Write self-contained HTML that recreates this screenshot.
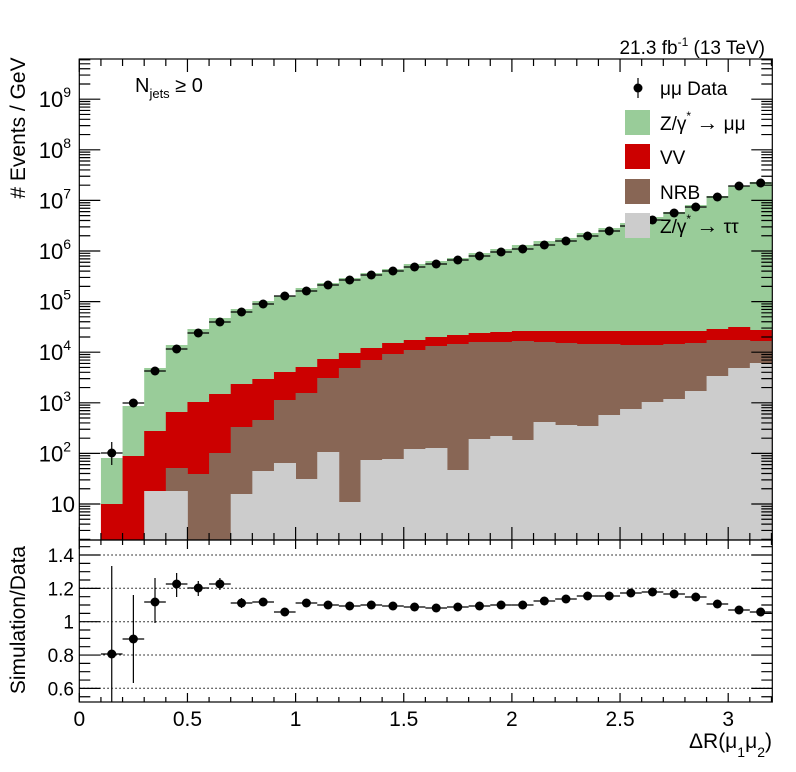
<!DOCTYPE html>
<html><head><meta charset="utf-8"><style>
html,body{margin:0;padding:0;background:#fff;}
svg{display:block;font-family:"Liberation Sans",sans-serif;}
</style></head><body>
<svg id="s" width="796" height="772" xmlns="http://www.w3.org/2000/svg"></svg>
<script>
const L=79.3,R=772.3,T=59,B1=540,B2=702,bw=21.63;
const X=v=>L+v*216.3;
const green=[null,458,406,368,345,329,318,309,301,296,288,283,278,273,269,264,261,258,253,249,245,241,238,233,228,223,217,212,205,196,186,182];
const red=[null,504,456,431,412,402,394,384,379,372,367,359,353,348,343,340,337,335,333,332,331,331,331,331,331,331,331,331,331,329,327,330];
const brown=[null,540,540,540,468,474,453,427,420,400,393,378,368,360,354,350,346,344,342,342,341,342,343,344,344,345,345,344,343,340,340,341];
const gray=[null,540,540,491,491,540,540,494,471,463,479,452,502,460,459,449,448,470,439,436,440,422,425,426,415,409,402,399,391,376,368,363];
const data=[null,453,403,371,349,333,322,312,304,296,291,285,280,275,271,267,264,260,256,252,249,245,241,236,231,226,220,213,207,197,186,183];
const rat=[null,654,639,602,584,588,584,603,602,612,603,605,606,605,606,607,608,607,606,605,605,601,599,596,596,593,592,594,597,604,610,612];
const rerr=[null,[566,702],[595,683],[578,623],[573,597],[581,596],[578,590],[598,608],[598,606]];
let s='';
function hist(arr,col){let d='';for(let i=1;i<=31;i++){const x0=L+i*bw,y=arr[i];if(y<B1)d+=`M${x0},${B1}H${x0+bw+0.4}V${y}H${x0}Z`;}s+=`<path d="${d}" fill="${col}"/>`;}
hist(green,'#99cc99');hist(red,'#cc0000');hist(brown,'#886655');hist(gray,'#cccccc');
for(let i=1;i<=31;i++){const cx=L+(i+0.5)*bw,y=data[i];s+=`<line x1="${cx-bw/2}" x2="${cx+bw/2}" y1="${y}" y2="${y}" stroke="#000" stroke-width="1.2"/>`;
 if(i==1)s+=`<line x1="${cx}" x2="${cx}" y1="442" y2="465" stroke="#000" stroke-width="1.2"/>`;
 s+=`<circle cx="${cx}" cy="${y}" r="4.5" fill="#000"/>`;}
[555,588.3,621.7,655,688.3].forEach(y=>s+=`<line x1="${L}" x2="${R}" y1="${y}" y2="${y}" stroke="#000" stroke-width="1" stroke-dasharray="1.5,2.5"/>`);
for(let i=1;i<=31;i++){const cx=L+(i+0.5)*bw,y=rat[i];s+=`<line x1="${cx-bw/2}" x2="${cx+bw/2}" y1="${y}" y2="${y}" stroke="#000" stroke-width="1.2"/>`;
 if(rerr[i])s+=`<line x1="${cx}" x2="${cx}" y1="${rerr[i][0]}" y2="${rerr[i][1]}" stroke="#000" stroke-width="1.2"/>`;
 s+=`<circle cx="${cx}" cy="${y}" r="4.5" fill="#000"/>`;}
s+=`<rect x="${L}" y="${T}" width="${R-L}" height="${B1-T}" fill="none" stroke="#000" stroke-width="1.2"/>`;
s+=`<rect x="${L}" y="${B1}" width="${R-L}" height="${B2-B1}" fill="none" stroke="#000" stroke-width="1.2"/>`;
let tk='';
for(let k=0;k<=32;k++){const x=X(k/10),maj=k%5==0;const l=maj?13:7;
 tk+=`M${x},${B1}v-${l}M${x},${T}v${l}M${x},${B2}v-${maj?9:5}M${x},${B1}v${maj?9:5}`;}
const Y=lv=>504-50.6*(lv-1);
for(let n=0;n<=9;n++){for(let m=1;m<=9;m++){const y=Y(n+Math.log10(m));if(y<T||y>B1)continue;const l=m==1?21:11;tk+=`M${L},${y}h${l}M${R},${y}h-${l}`;}}
for(let k=0;k<=20;k++){const r=0.5+k*0.05;const y=621.7-166.7*(r-1);if(y<B1||y>B2)continue;const maj=Math.abs((r*10)%2)<0.01||Math.abs((r*10)%2-2)<0.01;const l=maj?21:11;tk+=`M${L},${y}h${l}M${R},${y}h-${l}`;}
s+=`<path d="${tk}" stroke="#000" stroke-width="1.2" fill="none"/>`;
for(let n=2;n<=9;n++){const y=Y(n);s+=`<text x="71" y="${y+8}" font-size="22" text-anchor="end">10<tspan font-size="14" dy="-10">${n}</tspan></text>`;}
s+=`<text x="75" y="${Y(1)+8}" font-size="22" text-anchor="end">10</text>`;
[[1.4,555],[1.2,588.3],[1,621.7],[0.8,655],[0.6,688.3]].forEach(([v,y])=>s+=`<text x="74" y="${y+7}" font-size="19" text-anchor="end">${v}</text>`);
[[0,'0'],[0.5,'0.5'],[1,'1'],[1.5,'1.5'],[2,'2'],[2.5,'2.5'],[3,'3']].forEach(([v,t])=>s+=`<text x="${X(v)}" y="726" font-size="21" text-anchor="middle">${t}</text>`);
s+=`<text x="772" y="748" font-size="21" text-anchor="end">ΔR(μ<tspan font-size="14" dy="9">1</tspan><tspan dy="-9">μ</tspan><tspan font-size="14" dy="9">2</tspan><tspan dy="-9">)</tspan></text>`;
s+=`<text transform="translate(25,128) rotate(-90)" font-size="21" text-anchor="middle"># Events / GeV</text>`;
s+=`<text transform="translate(25,620) rotate(-90)" font-size="21" text-anchor="middle">Simulation/Data</text>`;
s+=`<text x="765" y="54" font-size="19" text-anchor="end">21.3 fb<tspan font-size="12" dy="-8">-1</tspan><tspan dy="8"> (13 TeV)</tspan></text>`;
s+=`<text x="135" y="92" font-size="20">N<tspan font-size="13" dy="6">jets</tspan><tspan dy="-6"> ≥ 0</tspan></text>`;
s+=`<line x1="638" x2="638" y1="78" y2="98" stroke="#000" stroke-width="1.2"/><circle cx="638" cy="88" r="4.5" fill="#000"/>`;
s+=`<text x="660" y="95" font-size="19">μμ Data</text>`;
const lg=[['#99cc99',110,'Z/γ','μμ'],['#cc0000',144,'VV'],['#886655',179,'NRB'],['#cccccc',213,'Z/γ','ττ']];
lg.forEach(([c,y,t,t2])=>{s+=`<rect x="625" y="${y}" width="25" height="25" fill="${c}"/>`;
 if(t2)s+=`<text x="660" y="${y+20}" font-size="19">${t}<tspan font-size="12" dy="-10">*</tspan><tspan dy="10"> <tspan font-size="22">→</tspan> ${t2}</tspan></text>`;
 else s+=`<text x="660" y="${y+20}" font-size="19">${t}</text>`;});
document.getElementById('s').innerHTML=s;
</script>
</body></html>
